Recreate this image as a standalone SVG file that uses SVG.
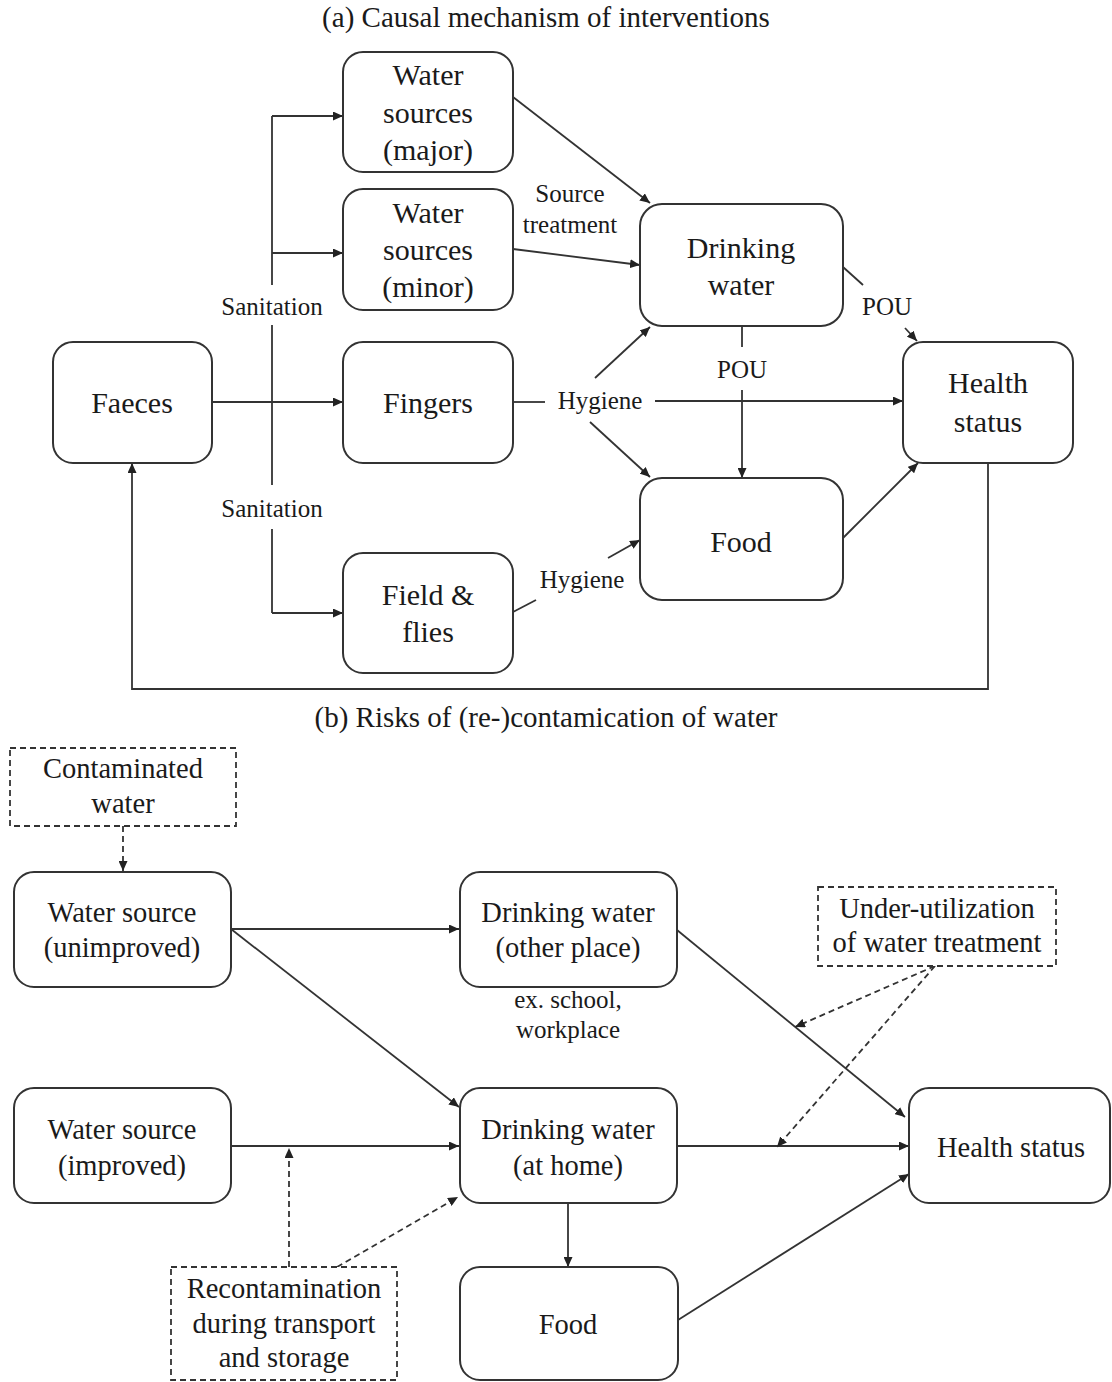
<svg xmlns="http://www.w3.org/2000/svg" width="1112" height="1382" viewBox="0 0 1112 1382">
<style>
  .box { fill: #fff; stroke: #333; stroke-width: 2; }
  .dbox { fill: #fff; stroke: #333; stroke-width: 1.8; stroke-dasharray: 6 4; }
  .t { font-family: "Liberation Serif", "Times New Roman", serif; fill: #1a1a1a; text-anchor: middle; }
  .n { font-size: 30px; }
  .nb { font-size: 28.5px; }
  .lb { font-size: 25px; }
  .ttl { font-size: 29px; }
  .c { fill: none; stroke: #333; stroke-width: 1.8; }
  .ca { fill: none; stroke: #333; stroke-width: 1.8; marker-end: url(#ah); }
  .da { fill: none; stroke: #333; stroke-width: 1.8; stroke-dasharray: 6 4; marker-end: url(#ah); }
</style>
<defs>
  <marker id="ah" markerWidth="11" markerHeight="9" refX="10" refY="4.5" orient="auto" markerUnits="userSpaceOnUse">
    <path d="M0,0 L10,4.5 L0,9 z" fill="#222"/>
  </marker>
</defs>
<rect width="1112" height="1382" fill="#fff"/>

<!-- Titles -->
<text class="t ttl" x="546" y="27">(a) Causal mechanism of interventions</text>
<text class="t ttl" x="546" y="727">(b) Risks of (re-)contamication of water</text>

<!-- Connectors -->
<g id="connectors">
  <!-- part a -->
  <path class="c" d="M272,116 V285 M272,325 V485 M272,529 V613"/>
  <path class="ca" d="M272,116 H343"/>
  <path class="ca" d="M272,253 H343"/>
  <path class="ca" d="M272,613 H343"/>
  <path class="ca" d="M212,402 H343"/>
  <path class="ca" d="M513,97 L650,203"/>
  <path class="ca" d="M513,249 L640,265"/>
  <path class="c" d="M513,402 H545"/>
  <path class="ca" d="M655,401 H903"/>
  <path class="ca" d="M595,378 L650,327"/>
  <path class="ca" d="M590,422 L650,477"/>
  <path class="c" d="M742,326 V347"/>
  <path class="ca" d="M742,390 V478"/>
  <path class="c" d="M843,267 L863,285"/>
  <path class="ca" d="M905,328 L917,341"/>
  <path class="ca" d="M843,538 L918,463"/>
  <path class="c" d="M513,612 L536,600"/>
  <path class="ca" d="M608,558 L640,540"/>
  <path class="ca" d="M988,463 V689 H132 V463"/>
  <text class="t lb" x="272" y="315">Sanitation</text>
  <text class="t lb" x="272" y="517">Sanitation</text>
  <text class="t lb" x="570" y="202">Source</text>
  <text class="t lb" x="570" y="233">treatment</text>
  <text class="t lb" x="600" y="409">Hygiene</text>
  <text class="t lb" x="742" y="378">POU</text>
  <text class="t lb" x="887" y="315">POU</text>
  <text class="t lb" x="582" y="588">Hygiene</text>
  <!-- part b -->
  <path class="da" d="M123,826 V871"/>
  <path class="ca" d="M231,929 H459"/>
  <path class="ca" d="M231,929 L459,1107"/>
  <path class="ca" d="M677,930 L905,1117"/>
  <path class="ca" d="M231,1146 H459"/>
  <path class="ca" d="M677,1146 H909"/>
  <path class="ca" d="M568,1203 V1267"/>
  <path class="ca" d="M678,1320 L909,1174"/>
  <path class="da" d="M935,966 L795,1027"/>
  <path class="da" d="M935,966 L777,1147"/>
  <path class="da" d="M289,1267 V1148"/>
  <path class="da" d="M337,1267 L458,1197"/>
  <text class="t lb" x="568" y="1008">ex. school,</text>
  <text class="t lb" x="568" y="1038">workplace</text>
</g>

<!-- Part (a) nodes -->
<g id="faeces">
  <rect class="box" x="53" y="342" width="159" height="121" rx="20"/>
  <text class="t n" x="132" y="413">Faeces</text>
</g>
<g id="water-major">
  <rect class="box" x="343" y="52" width="170" height="120" rx="20"/>
  <text class="t n" x="428" y="85">Water</text>
  <text class="t n" x="428" y="123">sources</text>
  <text class="t n" x="428" y="160">(major)</text>
</g>
<g id="water-minor">
  <rect class="box" x="343" y="189" width="170" height="121" rx="20"/>
  <text class="t n" x="428" y="223">Water</text>
  <text class="t n" x="428" y="260">sources</text>
  <text class="t n" x="428" y="297">(minor)</text>
</g>
<g id="fingers">
  <rect class="box" x="343" y="342" width="170" height="121" rx="20"/>
  <text class="t n" x="428" y="413">Fingers</text>
</g>
<g id="field-flies">
  <rect class="box" x="343" y="553" width="170" height="120" rx="20"/>
  <text class="t n" x="428" y="605">Field &amp;</text>
  <text class="t n" x="428" y="642">flies</text>
</g>
<g id="drinking-water">
  <rect class="box" x="640" y="204" width="203" height="122" rx="22"/>
  <text class="t n" x="741" y="258">Drinking</text>
  <text class="t n" x="741" y="295">water</text>
</g>
<g id="food-a">
  <rect class="box" x="640" y="478" width="203" height="122" rx="22"/>
  <text class="t n" x="741" y="552">Food</text>
</g>
<g id="health-a">
  <rect class="box" x="903" y="342" width="170" height="121" rx="20"/>
  <text class="t n" x="988" y="393">Health</text>
  <text class="t n" x="988" y="432">status</text>
</g>

<!-- Part (b) nodes -->
<g id="contaminated-water">
  <rect class="dbox" x="10" y="748" width="226" height="78"/>
  <text class="t nb" x="123" y="778">Contaminated</text>
  <text class="t nb" x="123" y="813">water</text>
</g>
<g id="source-unimproved">
  <rect class="box" x="14" y="872" width="217" height="115" rx="20"/>
  <text class="t nb" x="122" y="922">Water source</text>
  <text class="t nb" x="122" y="957">(unimproved)</text>
</g>
<g id="dw-other">
  <rect class="box" x="460" y="872" width="217" height="115" rx="20"/>
  <text class="t nb" x="568" y="922">Drinking water</text>
  <text class="t nb" x="568" y="957">(other place)</text>
</g>
<g id="under-utilization">
  <rect class="dbox" x="818" y="887" width="238" height="79"/>
  <text class="t nb" x="937" y="918">Under-utilization</text>
  <text class="t nb" x="937" y="952">of water treatment</text>
</g>
<g id="source-improved">
  <rect class="box" x="14" y="1088" width="217" height="115" rx="20"/>
  <text class="t nb" x="122" y="1139">Water source</text>
  <text class="t nb" x="122" y="1175">(improved)</text>
</g>
<g id="dw-home">
  <rect class="box" x="460" y="1088" width="217" height="115" rx="20"/>
  <text class="t nb" x="568" y="1139">Drinking water</text>
  <text class="t nb" x="568" y="1175">(at home)</text>
</g>
<g id="health-b">
  <rect class="box" x="909" y="1088" width="201" height="115" rx="20"/>
  <text class="t nb" x="1011" y="1157">Health status</text>
</g>
<g id="food-b">
  <rect class="box" x="460" y="1267" width="218" height="113" rx="20"/>
  <text class="t nb" x="568" y="1334">Food</text>
</g>
<g id="recontamination">
  <rect class="dbox" x="171" y="1267" width="226" height="113"/>
  <text class="t nb" x="284" y="1298">Recontamination</text>
  <text class="t nb" x="284" y="1333">during transport</text>
  <text class="t nb" x="284" y="1367">and storage</text>
</g>
</svg>
